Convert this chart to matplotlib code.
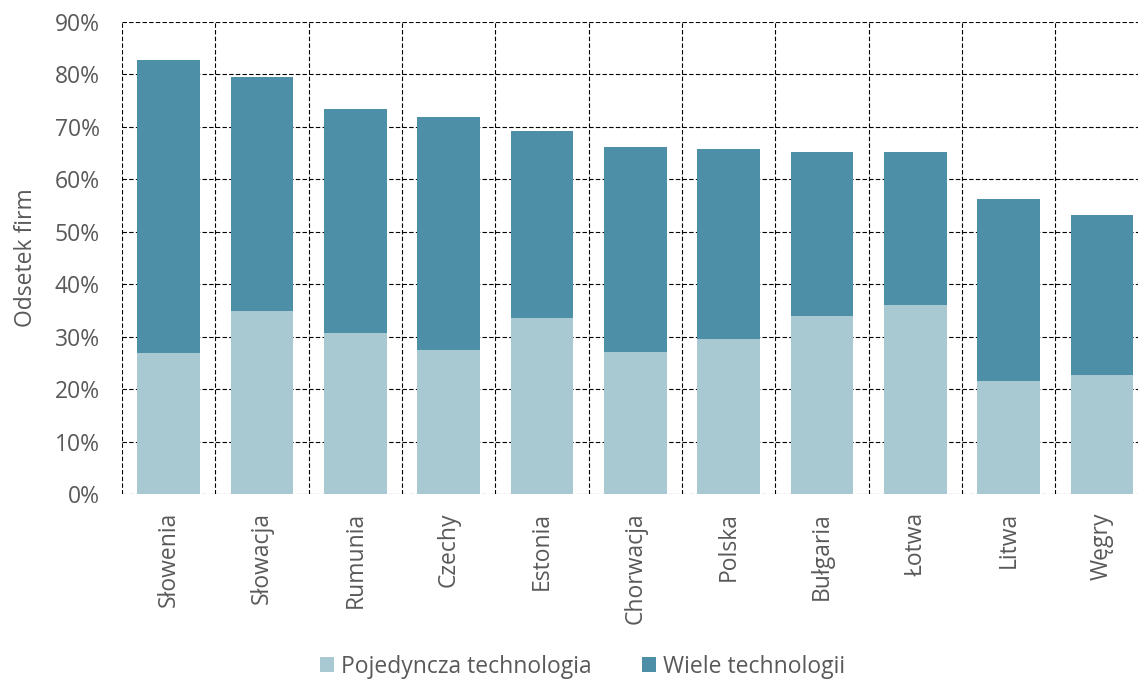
import numpy as np
import matplotlib.pyplot as plt
from matplotlib.ticker import PercentFormatter, FixedLocator

plt.rcParams['font.family'] = ['Open Sans', 'DejaVu Sans']

countries = ['Słowenia', 'Słowacja', 'Rumunia', 'Czechy', 'Estonia', 'Chorwacja',
             'Polska', 'Bułgaria', 'Łotwa', 'Litwa', 'Węgry']
single = [26.9, 34.9, 30.7, 27.5, 33.6, 27.1, 29.6, 33.9, 36.0, 21.5, 22.7]
total = [82.8, 79.5, 73.4, 71.9, 69.2, 66.2, 65.8, 65.2, 65.2, 56.3, 53.2]
multi = [t - s for t, s in zip(total, single)]

light = '#A8C8D2'
dark = '#4E8FA8'
grey = '#595959'

fig = plt.figure(figsize=(11.38, 6.79), dpi=100)
ax = fig.add_axes([0.1072, 0.2725, 0.9022, 0.6951])

x = np.arange(len(countries))
ax.bar(x, single, width=0.67, color=light, label='Pojedyncza technologia', zorder=3)
ax.bar(x, multi, bottom=single, width=0.67, color=dark, label='Wiele technologii', zorder=3)

ax.set_xlim(-0.5, len(countries) - 0.5)
ax.set_ylim(0, 90)
ax.set_yticks(np.arange(0, 91, 10))
ax.yaxis.set_major_formatter(PercentFormatter(decimals=0))
ax.set_xticks(x)
ax.set_xticklabels(countries, rotation=90)
ax.xaxis.set_minor_locator(FixedLocator(np.arange(-0.5, len(countries), 1)))

for s in ax.spines.values():
    s.set_visible(False)
ax.tick_params(axis='both', length=0, colors=grey, labelsize=16.5)
ax.tick_params(axis='y', pad=16)
ax.tick_params(axis='x', pad=13)
ax.tick_params(axis='x', which='minor', length=0)
ax.grid(axis='y', which='major', color='black', linestyle=(0, (4, 2)), linewidth=0.8, zorder=0)
ax.grid(axis='x', which='minor', color='black', linestyle=(0, (4, 2)), linewidth=0.8, zorder=0)
ax.grid(axis='x', which='major', visible=False)

ax.set_ylabel('Odsetek firm', color=grey, fontsize=16.5, labelpad=12)

fig.legend(loc='lower center', bbox_to_anchor=(0.512, -0.03), ncol=2, frameon=False,
           fontsize=16.5, labelcolor=grey, handlelength=0.6, handleheight=0.6,
           handletextpad=0.3, columnspacing=2.2)

fig.savefig('out.png', dpi=100)
